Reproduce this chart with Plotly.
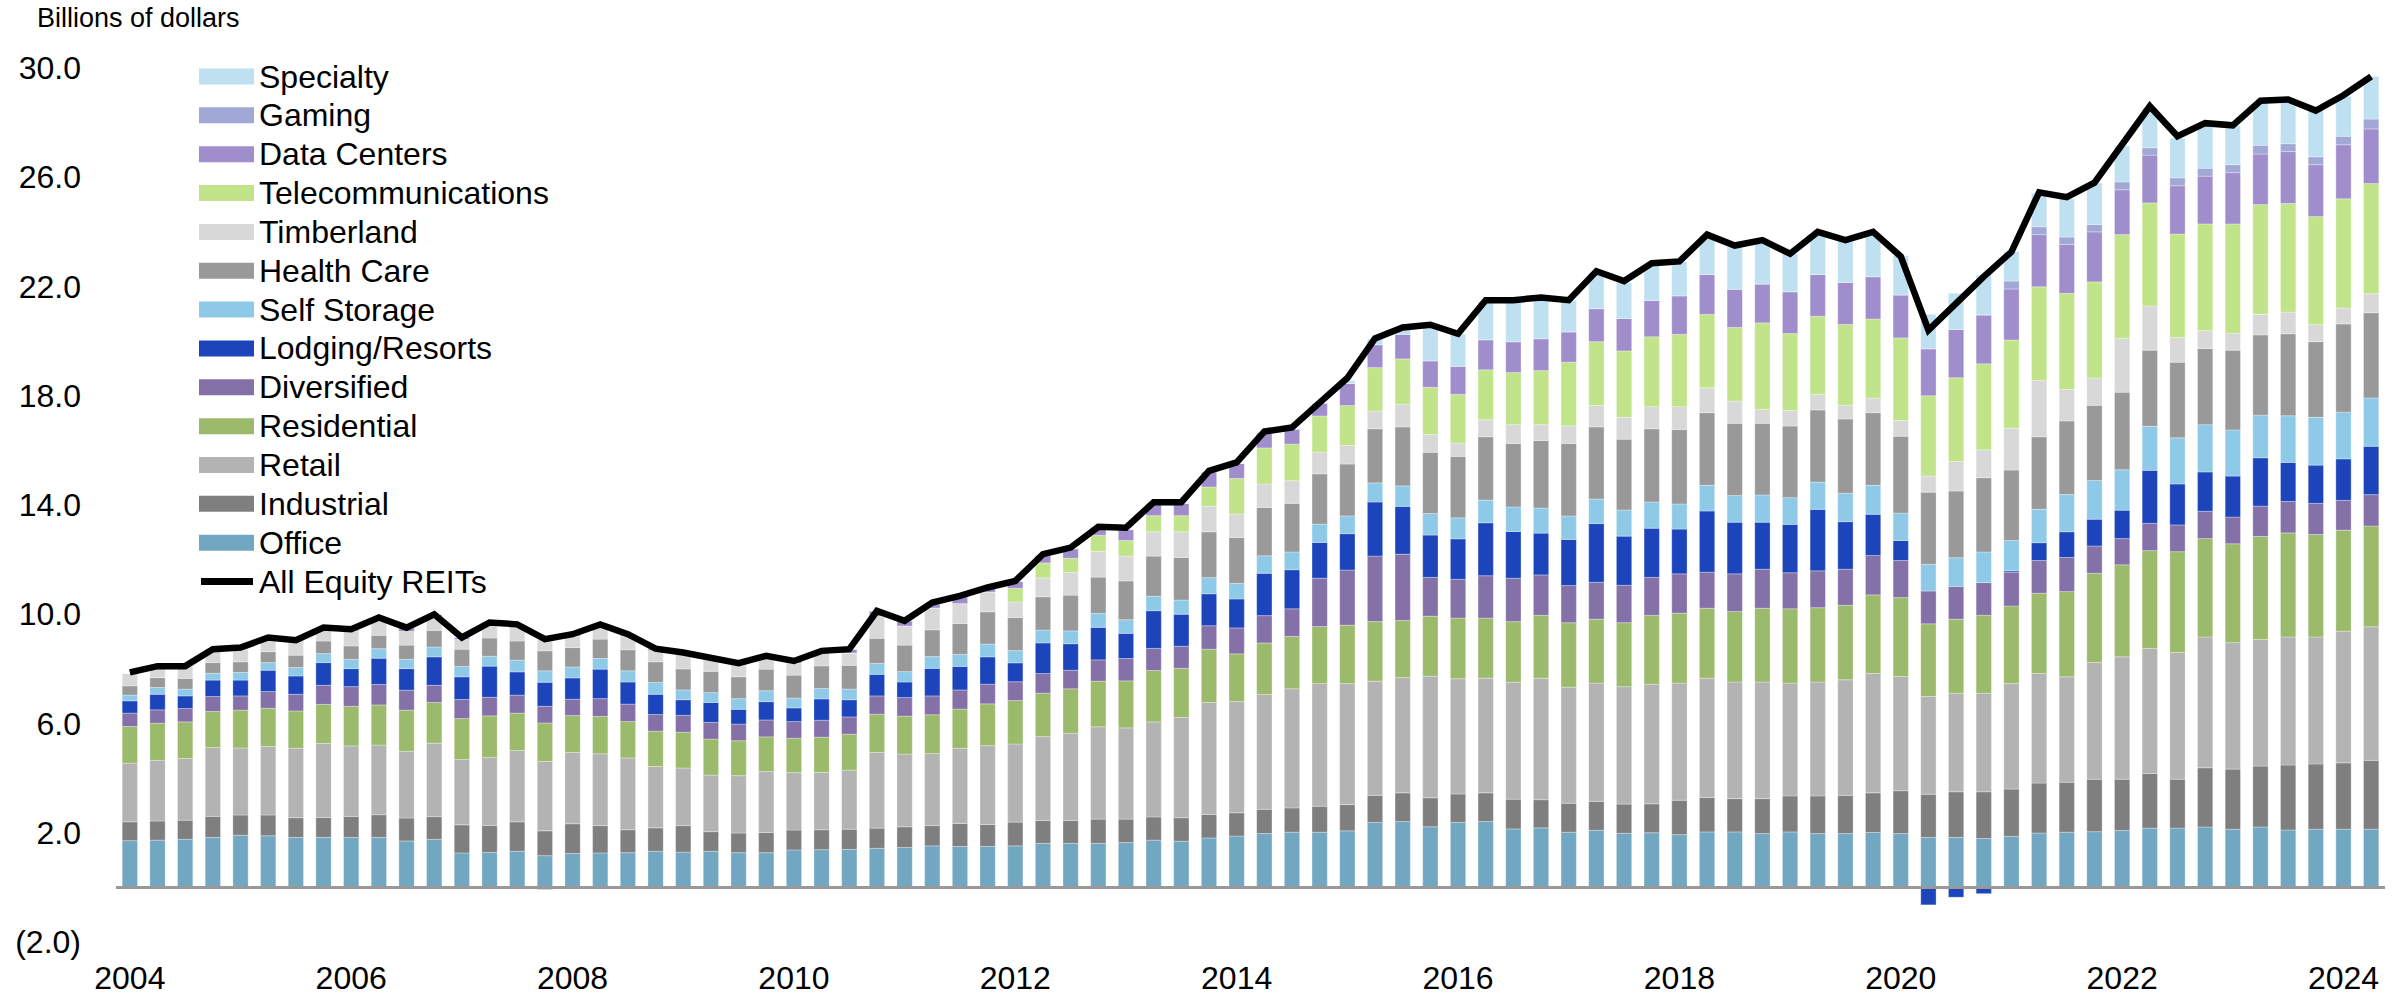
import plotly.graph_objects as go

# ---------------- data ----------------
quarters = [f"{y} Q{q}" for y in range(2004, 2025) for q in range(1, 5)][:82]
year_labels = [str(y) for y in range(2004, 2025, 2)]
y_tick_values = [-2, 2, 6, 10, 14, 18, 22, 26, 30]

office = [1.71, 1.73, 1.76, 1.83, 1.91, 1.89, 1.83, 1.83, 1.83, 1.83, 1.70, 1.76,
          1.26, 1.28, 1.32, 1.16, 1.24, 1.26, 1.27, 1.32, 1.29, 1.32, 1.27, 1.27,
          1.37, 1.38, 1.39, 1.43, 1.46, 1.52, 1.50, 1.50, 1.52, 1.61, 1.61, 1.61,
          1.64, 1.73, 1.69, 1.81, 1.88, 1.97, 2.02, 2.02, 2.07, 2.38, 2.41, 2.22,
          2.38, 2.41, 2.14, 2.18, 2.02, 2.09, 1.98, 2.00, 1.93, 2.03, 2.03, 1.97,
          2.03, 1.97, 1.97, 2.01, 1.97, 1.83, 1.83, 1.79, 1.87, 1.99, 2.02, 2.04,
          2.08, 2.17, 2.17, 2.21, 2.13, 2.21, 2.10, 2.13, 2.13, 2.13]
industrial = [0.69, 0.70, 0.70, 0.77, 0.74, 0.76, 0.72, 0.73, 0.77, 0.83, 0.84, 0.83,
              1.03, 0.99, 1.08, 0.91, 1.09, 1.00, 0.84, 0.86, 0.97, 0.72, 0.72, 0.74,
              0.73, 0.73, 0.74, 0.74, 0.76, 0.74, 0.84, 0.80, 0.87, 0.84, 0.84, 0.89,
              0.86, 0.85, 0.86, 0.86, 0.85, 0.89, 0.89, 0.95, 0.96, 0.99, 1.05, 1.06,
              1.04, 1.05, 1.09, 1.03, 1.06, 1.06, 1.07, 1.06, 1.26, 1.26, 1.22, 1.28,
              1.32, 1.38, 1.40, 1.45, 1.57, 1.58, 1.67, 1.71, 1.73, 1.83, 1.83, 1.92,
              1.88, 2.00, 1.79, 2.17, 2.20, 2.23, 2.38, 2.39, 2.43, 2.52]
retail = [2.15, 2.22, 2.26, 2.52, 2.45, 2.51, 2.54, 2.71, 2.58, 2.55, 2.44, 2.69,
          2.39, 2.49, 2.61, 2.54, 2.61, 2.63, 2.63, 2.25, 2.11, 2.07, 2.10, 2.23,
          2.10, 2.10, 2.16, 2.77, 2.66, 2.64, 2.75, 2.89, 2.86, 3.07, 3.19, 3.38,
          3.34, 3.48, 3.67, 4.10, 4.07, 4.20, 4.36, 4.49, 4.43, 4.18, 4.22, 4.45,
          4.22, 4.20, 4.28, 4.45, 4.25, 4.33, 4.30, 4.38, 4.29, 4.37, 4.27, 4.27,
          4.13, 4.17, 4.23, 4.37, 4.18, 3.58, 3.61, 3.61, 3.86, 4.01, 3.86, 4.27,
          4.48, 4.58, 4.64, 4.79, 4.63, 4.64, 4.69, 4.65, 4.82, 4.89]
residential = [1.34, 1.36, 1.34, 1.32, 1.39, 1.40, 1.37, 1.43, 1.45, 1.47, 1.51, 1.49,
               1.50, 1.52, 1.37, 1.41, 1.35, 1.37, 1.33, 1.29, 1.31, 1.32, 1.28, 1.27,
               1.26, 1.29, 1.32, 1.40, 1.39, 1.42, 1.44, 1.53, 1.59, 1.59, 1.63, 1.67,
               1.72, 1.88, 1.80, 1.95, 1.75, 1.89, 1.92, 2.09, 2.14, 2.18, 2.09, 2.20,
               2.22, 2.20, 2.22, 2.30, 2.36, 2.34, 2.34, 2.52, 2.56, 2.56, 2.58, 2.70,
               2.72, 2.72, 2.73, 2.88, 2.89, 2.66, 2.71, 2.85, 2.84, 2.94, 3.12, 3.27,
               3.37, 3.58, 3.69, 3.60, 3.62, 3.77, 3.81, 3.75, 3.70, 3.69]
diversified = [0.49, 0.49, 0.49, 0.55, 0.52, 0.61, 0.61, 0.70, 0.72, 0.75, 0.73, 0.63,
               0.70, 0.68, 0.66, 0.61, 0.60, 0.65, 0.64, 0.61, 0.62, 0.61, 0.61, 0.62,
               0.61, 0.62, 0.63, 0.67, 0.68, 0.69, 0.70, 0.72, 0.69, 0.72, 0.68, 0.78,
               0.82, 0.81, 0.81, 0.86, 0.95, 1.00, 1.01, 1.77, 2.02, 2.40, 2.43, 1.42,
               1.42, 1.55, 1.59, 1.48, 1.36, 1.35, 1.37, 1.39, 1.44, 1.32, 1.38, 1.43,
               1.32, 1.35, 1.32, 1.44, 1.36, 1.20, 1.20, 1.20, 1.24, 1.20, 1.25, 1.00,
               0.96, 1.00, 0.98, 1.00, 0.98, 1.11, 1.15, 1.14, 1.09, 1.15]
lodging = [0.45, 0.57, 0.46, 0.60, 0.58, 0.78, 0.67, 0.83, 0.66, 0.96, 0.79, 1.04,
           0.83, 1.14, 0.85, 0.88, 0.78, 1.08, 0.81, 0.74, 0.57, 0.73, 0.54, 0.67,
           0.50, 0.78, 0.63, 0.79, 0.57, 1.01, 0.86, 1.00, 0.69, 1.12, 0.97, 1.19,
           0.92, 1.38, 1.17, 1.17, 1.06, 1.55, 1.43, 1.31, 1.33, 1.98, 1.75, 1.55,
           1.48, 1.94, 1.71, 1.53, 1.69, 2.15, 1.80, 1.80, 1.64, 2.24, 1.89, 1.72,
           1.77, 2.25, 1.74, 1.51, 0.73, -0.64, -0.36, -0.23, 0.05, 0.65, 0.94, 0.98,
           1.04, 1.94, 1.50, 1.44, 1.50, 1.77, 1.43, 1.40, 1.52, 1.77]
self_storage = [0.21, 0.25, 0.25, 0.25, 0.28, 0.28, 0.31, 0.33, 0.34, 0.35, 0.34, 0.36,
                0.38, 0.36, 0.43, 0.42, 0.40, 0.39, 0.41, 0.43, 0.36, 0.36, 0.39, 0.40,
                0.36, 0.38, 0.39, 0.40, 0.38, 0.43, 0.44, 0.47, 0.45, 0.47, 0.47, 0.51,
                0.50, 0.53, 0.52, 0.59, 0.57, 0.64, 0.65, 0.67, 0.65, 0.70, 0.75, 0.79,
                0.77, 0.83, 0.90, 0.92, 0.86, 0.90, 0.96, 0.96, 0.92, 0.94, 0.98, 1.00,
                0.98, 1.00, 1.04, 1.06, 1.00, 0.98, 1.05, 1.12, 1.11, 1.22, 1.36, 1.42,
                1.48, 1.61, 1.69, 1.73, 1.69, 1.56, 1.71, 1.75, 1.71, 1.77]
health_care = [0.34, 0.36, 0.39, 0.39, 0.39, 0.40, 0.45, 0.46, 0.49, 0.49, 0.52, 0.61,
               0.63, 0.67, 0.70, 0.73, 0.71, 0.71, 0.77, 0.76, 0.77, 0.78, 0.80, 0.79,
               0.84, 0.83, 0.87, 0.92, 0.97, 0.98, 1.13, 1.18, 1.21, 1.22, 1.31, 1.33,
               1.42, 1.47, 1.56, 1.68, 1.68, 1.77, 1.78, 1.84, 1.90, 1.98, 2.16, 2.24,
               2.25, 2.32, 2.32, 2.47, 2.65, 2.64, 2.59, 2.68, 2.72, 2.66, 2.64, 2.62,
               2.62, 2.64, 2.72, 2.66, 2.82, 2.64, 2.44, 2.72, 2.58, 2.66, 2.70, 2.75,
               2.84, 2.79, 2.77, 2.79, 2.92, 2.94, 3.00, 2.77, 3.23, 3.12]
timberland = [0.45, 0.42, 0.45, 0.44, 0.47, 0.47, 0.50, 0.44, 0.55, 0.58, 0.50, 0.52,
              0.36, 0.50, 0.54, 0.43, 0.42, 0.47, 0.50, 0.41, 0.53, 0.40, 0.42, 0.41,
              0.44, 0.45, 0.45, 0.80, 0.70, 0.80, 0.73, 0.72, 0.57, 0.69, 0.83, 0.94,
              0.91, 0.89, 0.94, 0.93, 0.86, 0.86, 0.83, 0.79, 0.68, 0.65, 0.83, 0.65,
              0.49, 0.62, 0.69, 0.58, 0.65, 0.78, 0.80, 0.81, 0.84, 0.91, 0.81, 0.51,
              0.57, 0.57, 0.51, 0.53, 0.57, 0.59, 1.08, 1.02, 1.53, 2.06, 1.15, 1.00,
              1.97, 1.62, 0.90, 0.65, 0.62, 0.75, 0.79, 0.62, 0.58, 0.69]
telecommunications = [0.0] * 32 + [
    0.50, 0.55, 0.52, 0.59, 0.57, 0.59, 0.59, 0.71, 1.30, 1.32, 1.34, 1.33,
    1.46, 1.59, 1.66, 1.73, 1.78, 1.83, 1.91, 1.98, 2.33, 2.34, 2.43, 2.56,
    2.65, 2.69, 2.70, 3.17, 2.82, 2.86, 2.95, 2.90, 3.03, 2.94, 3.07, 3.15,
    3.23, 3.43, 3.52, 3.52, 3.80, 3.77, 3.79, 3.91, 4.00, 4.02, 3.98, 3.96,
    4.00, 4.04]
data_centers = [0.00, 0.00, 0.00, 0.05, 0.05, 0.05, 0.05, 0.05, 0.06, 0.07, 0.14, 0.07,
                0.07, 0.07, 0.07, -0.08, 0.07, 0.07, 0.07, 0.07, 0.07, 0.07, 0.08, 0.08,
                0.08, 0.10, 0.14, 0.20, 0.19, 0.15, 0.25, 0.18, 0.25, 0.28, 0.35, 0.30,
                0.40, 0.45, 0.45, 0.55, 0.55, 0.55, 0.55, 0.47, 0.81, 0.84, 0.90, 0.97,
                1.03, 1.10, 1.13, 1.17, 1.11, 1.21, 1.19, 1.33, 1.41, 1.46, 1.40, 1.42,
                1.53, 1.53, 1.54, 1.55, 1.57, 1.72, 1.77, 1.79, 1.87, 1.91, 1.79, 1.83,
                1.64, 1.75, 1.77, 1.75, 1.88, 1.85, 1.90, 1.90, 1.98, 2.00]
gaming = [0.0] * 68 + [0.29, 0.29, 0.27, 0.27, 0.29, 0.27, 0.29, 0.29,
                       0.29, 0.32, 0.29, 0.29, 0.31, 0.36]
specialty = [0.0] * 44 + [
    0.10, 0.20, 0.25, 1.30, 1.17, 1.40, 1.45, 1.45, 1.15, 1.30, 1.30, 1.30,
    1.25, 1.40, 1.55, 1.55, 1.39, 1.50, 1.53, 1.58, 1.44, 1.26, 1.32, 1.46,
    1.07, 1.22, 1.40, 1.52, 1.32, 1.45, 1.45, 1.55, 1.42, 1.55, 1.58, 1.69,
    1.46, 1.56]
all_equity_reits = [7.87, 8.10, 8.10, 8.72, 8.78, 9.15, 9.05, 9.51, 9.45, 9.88, 9.51, 10.00,
                    9.15, 9.70, 9.63, 9.09, 9.27, 9.63, 9.27, 8.74, 8.60, 8.38, 8.21, 8.48,
                    8.29, 8.66, 8.72, 10.12, 9.76, 10.43, 10.67, 10.98, 11.22, 12.20, 12.44, 13.20,
                    13.17, 14.10, 14.10, 15.25, 15.56, 16.69, 16.84, 17.75, 18.65, 20.10, 20.50, 20.60,
                    20.27, 21.50, 21.50, 21.60, 21.50, 22.56, 22.20, 22.85, 22.92, 23.90, 23.50, 23.70,
                    23.20, 24.00, 23.70, 24.00, 23.10, 20.40, 21.40, 22.36, 23.27, 25.45, 25.27, 25.80,
                    27.20, 28.60, 27.50, 27.98, 27.90, 28.80, 28.85, 28.44, 29.00, 29.69]

# ---------------- styling ----------------
series = [
    ("Office", office, "#72a7c1"),
    ("Industrial", industrial, "#7f7f7f"),
    ("Retail", retail, "#b3b3b3"),
    ("Residential", residential, "#9cba6c"),
    ("Diversified", diversified, "#8471a7"),
    ("Lodging/Resorts", lodging, "#1c45bc"),
    ("Self Storage", self_storage, "#8ecae8"),
    ("Health Care", health_care, "#999999"),
    ("Timberland", timberland, "#d8d8d8"),
    ("Telecommunications", telecommunications, "#c1e48a"),
    ("Data Centers", data_centers, "#a08dcb"),
    ("Gaming", gaming, "#a2a8d6"),
    ("Specialty", specialty, "#bee0f0"),
]

W, H = 2402, 997
ML, MR, MT, MB = 116, 17, 68, 55
PW, PH = W - ML - MR, H - MT - MB
FONT = "Liberation Sans, Arial, Helvetica, sans-serif"


def pxx(px):
    return (px - ML) / PW


def pyy(py):
    return (H - MB - py) / PH


fig = go.Figure()
for name, vals, color in series:
    fig.add_trace(go.Bar(
        x=quarters, y=vals, name=name, showlegend=False,
        marker=dict(color=color, line=dict(color="rgba(255,255,255,0.5)", width=0.6)),
    ))
fig.add_trace(go.Scatter(
    x=quarters, y=all_equity_reits, name="All Equity REITs", mode="lines",
    showlegend=False, line=dict(color="#000000", width=6.5),
))

shapes = [dict(type="line", xref="paper", yref="y", x0=0, x1=1, y0=0, y1=0,
               line=dict(color="#999999", width=3), layer="above")]
annotations = [dict(text="Billions of dollars", xref="paper", yref="paper",
                    x=pxx(35), y=pyy(18), xanchor="left", yanchor="middle",
                    showarrow=False, font=dict(family=FONT, size=27, color="#000"))]

# custom legend (Specialty on top ... Office, then the line)
legend_items = list(reversed(series))
row0, row_step = 76.5, 38.85
for k, (name, _, color) in enumerate(legend_items):
    yc = row0 + row_step * k
    shapes.append(dict(type="rect", xref="paper", yref="paper",
                       x0=pxx(199), x1=pxx(254), y0=pyy(yc + 8), y1=pyy(yc - 8),
                       fillcolor=color, line=dict(width=0), layer="above"))
    annotations.append(dict(text=name, xref="paper", yref="paper", x=pxx(257), y=pyy(yc),
                            xanchor="left", yanchor="middle", showarrow=False,
                            font=dict(family=FONT, size=32, color="#000")))
yc = row0 + row_step * len(legend_items)
shapes.append(dict(type="line", xref="paper", yref="paper", x0=pxx(201), x1=pxx(253),
                   y0=pyy(yc), y1=pyy(yc), line=dict(color="#000", width=7), layer="above"))
annotations.append(dict(text="All Equity REITs", xref="paper", yref="paper", x=pxx(257), y=pyy(yc),
                        xanchor="left", yanchor="middle", showarrow=False,
                        font=dict(family=FONT, size=32, color="#000")))

fig.update_layout(
    width=W, height=H,
    margin=dict(l=ML, r=MR, t=MT, b=MB, pad=0, autoexpand=False),
    barmode="relative", bargap=0.447,
    plot_bgcolor="white", paper_bgcolor="white",
    showlegend=False,
    font=dict(family=FONT, size=32, color="#000"),
    shapes=shapes, annotations=annotations,
    xaxis=dict(
        type="category", range=[-0.5, len(quarters) - 0.5], automargin=False,
        tickmode="array", tickvals=quarters[::8], ticktext=year_labels,
        showgrid=False, zeroline=False, showline=False, ticks="",
        ticklabelstandoff=14, tickfont=dict(family=FONT, size=32, color="#000"),
    ),
    yaxis=dict(
        range=[-2, 30], automargin=False, tickmode="array", tickvals=y_tick_values,
        ticktext=[f"({abs(v):.1f})" if v < 0 else f"{v:.1f}" for v in y_tick_values],
        showgrid=False, zeroline=False, showline=False, ticks="",
        ticklabelstandoff=34, tickfont=dict(family=FONT, size=32, color="#000"),
    ),
)

fig.write_html("out.html", config={"displayModeBar": False},
               post_script="document.body.style.margin='0px';document.body.style.overflow='hidden';")
